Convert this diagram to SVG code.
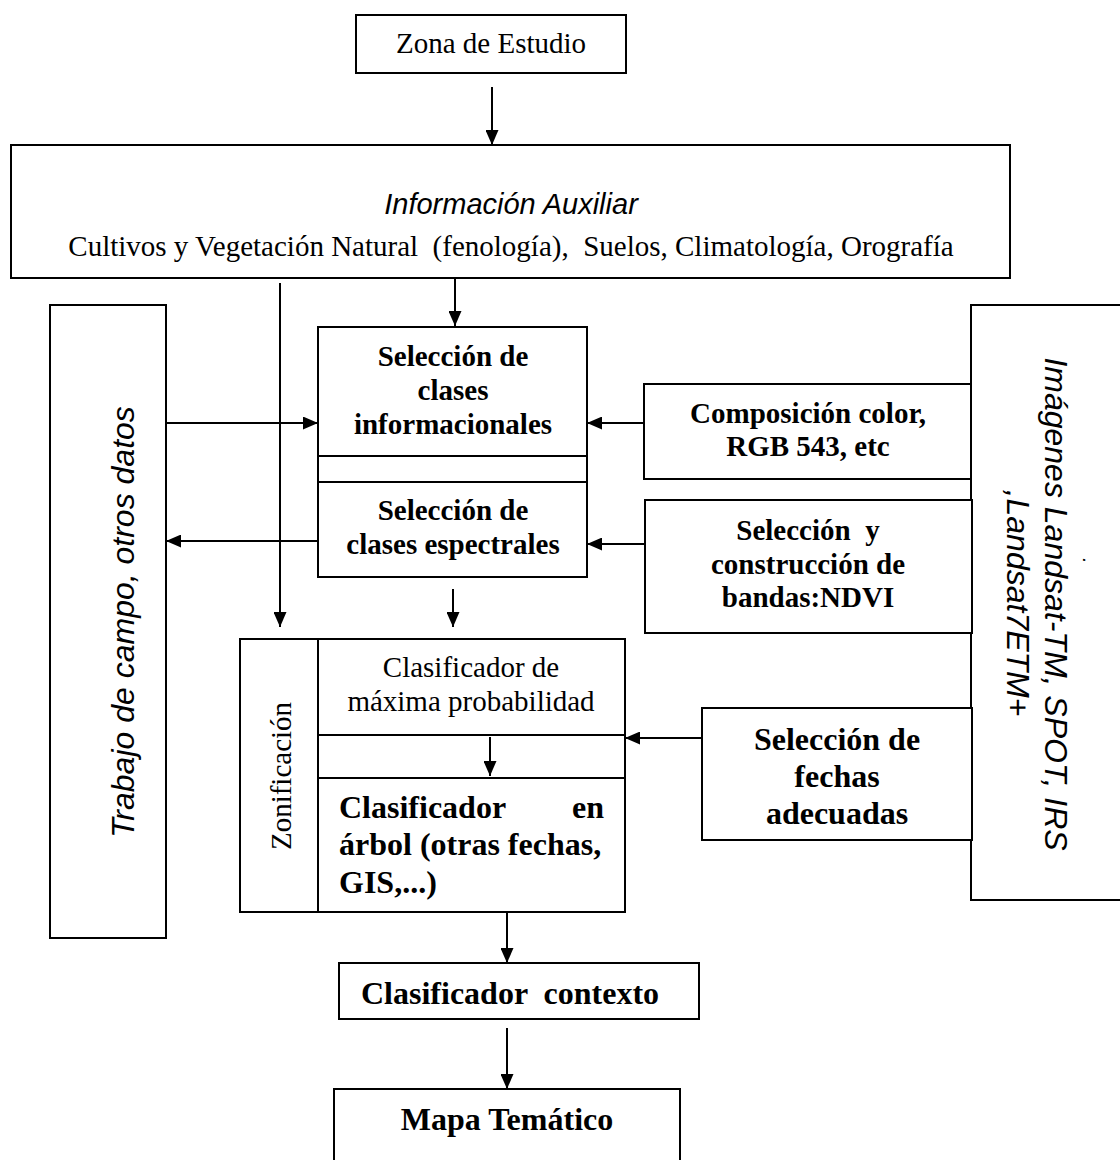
<svg xmlns="http://www.w3.org/2000/svg" width="1120" height="1160" viewBox="0 0 1120 1160" xml:space="preserve">
<style>
.box{fill:#fff;stroke:#000;stroke-width:2}
.ln{fill:none;stroke:#000;stroke-width:2}
.arr{fill:none;stroke:#000;stroke-width:2;marker-end:url(#ah)}
text{white-space:pre}
.r{font-family:"Liberation Serif","Times New Roman",serif;font-size:29px;fill:#000}
.b{font-family:"Liberation Serif","Times New Roman",serif;font-size:29px;font-weight:bold;fill:#000}
.b32{font-family:"Liberation Serif","Times New Roman",serif;font-size:32px;font-weight:bold;fill:#000}
.si{font-family:"Liberation Sans",Arial,sans-serif;font-style:italic;fill:#000}
.c{text-anchor:middle}
</style>
<defs>
<marker id="ah" markerWidth="15" markerHeight="13" refX="15" refY="6.5" orient="auto" markerUnits="userSpaceOnUse">
<path d="M0,0 L15,6.5 L0,13 z" fill="#000"/>
</marker>
</defs>
<rect width="1120" height="1160" fill="#fff"/>
<g id="zona">
<rect class="box" x="356" y="15" width="270" height="58"/>
<text class="r c" x="491" y="53">Zona de Estudio</text>
</g>
<g id="info">
<rect class="box" x="11" y="145" width="999" height="133"/>
<text class="si c" x="511" y="214" font-size="29">Información Auxiliar</text>
<text class="r c" x="511" y="256">Cultivos y Vegetación Natural  (fenología),  Suelos, Climatología, Orografía</text>
</g>
<g id="trabajo">
<rect class="box" x="50" y="305" width="116" height="633"/>
<text class="si c" font-size="32" transform="translate(134,622) rotate(-90)" x="0" y="0">Trabajo de campo, otros datos</text>
</g>
<g id="imagenes">
<rect class="box" x="971" y="305" width="170" height="595"/>
<text class="si c" font-size="32" transform="translate(1045,604) rotate(90)" x="0" y="0">Imágenes Landsat-TM, SPOT, IRS</text>
<text class="si c" font-size="32" transform="translate(1007,603) rotate(90)" x="0" y="0">,Landsat7ETM+</text>
<text class="si" font-size="20" transform="translate(1083,558) rotate(90)" x="0" y="0">.</text>
</g>
<g id="seleccion">
<rect class="box" x="318" y="327" width="269" height="250"/>
<line class="ln" x1="318" y1="456" x2="587" y2="456"/>
<line class="ln" x1="318" y1="482" x2="587" y2="482"/>
<text class="b c" x="453" y="366">Selección de</text>
<text class="b c" x="453" y="400">clases</text>
<text class="b c" x="453" y="434">informacionales</text>
<text class="b c" x="453" y="520">Selección de</text>
<text class="b c" x="453" y="554">clases espectrales</text>
</g>
<g id="composicion">
<rect class="box" x="644" y="384" width="327" height="95"/>
<text class="b c" x="808" y="423">Composición color,</text>
<text class="b c" x="808" y="456">RGB 543, etc</text>
</g>
<g id="bandas">
<rect class="box" x="645" y="500" width="327" height="133"/>
<text class="b c" x="808" y="540">Selección  y</text>
<text class="b c" x="808" y="574">construcción de</text>
<text class="b c" x="808" y="607">bandas:NDVI</text>
</g>
<g id="fechas">
<rect class="box" x="702" y="708" width="270" height="132"/>
<text class="b32 c" x="837" y="750">Selección de</text>
<text class="b32 c" x="837" y="787">fechas</text>
<text class="b32 c" x="837" y="824">adecuadas</text>
</g>
<g id="clasificador">
<rect class="box" x="240" y="639" width="385" height="273"/>
<line class="ln" x1="318" y1="639" x2="318" y2="912"/>
<line class="ln" x1="318" y1="735" x2="625" y2="735"/>
<line class="ln" x1="318" y1="778" x2="625" y2="778"/>
<text class="r c" transform="translate(291,776) rotate(-90)" x="0" y="0">Zonificación</text>
<text class="r c" x="471" y="677">Clasificador de</text>
<text class="r c" x="471" y="711">máxima probabilidad</text>
<text class="b32" x="339" y="818">Clasificador</text>
<text class="b32" x="604" y="818" text-anchor="end">en</text>
<text class="b32" x="339" y="855">árbol (otras fechas,</text>
<text class="b32" x="339" y="893">GIS,...)</text>
</g>
<g id="contexto">
<rect class="box" x="339" y="963" width="360" height="56"/>
<text class="b32" x="361" y="1004">Clasificador  contexto</text>
</g>
<g id="mapa">
<rect class="box" x="334" y="1089" width="346" height="90"/>
<text class="b32 c" x="507" y="1130">Mapa Temático</text>
</g>
<g id="connectors">
<line class="arr" x1="492" y1="87" x2="492" y2="145"/>
<line class="arr" x1="455" y1="279" x2="455" y2="326"/>
<line class="arr" x1="280" y1="283" x2="280" y2="627"/>
<line class="arr" x1="166" y1="423" x2="318" y2="423"/>
<line class="arr" x1="318" y1="541" x2="166" y2="541"/>
<line class="arr" x1="453" y1="589" x2="453" y2="627"/>
<line class="arr" x1="644" y1="423" x2="587" y2="423"/>
<line class="arr" x1="645" y1="544" x2="587" y2="544"/>
<line class="arr" x1="702" y1="738" x2="625" y2="738"/>
<line class="arr" x1="490" y1="737" x2="490" y2="776"/>
<line class="arr" x1="507" y1="912" x2="507" y2="963"/>
<line class="arr" x1="507" y1="1028" x2="507" y2="1089"/>
</g>
</svg>
